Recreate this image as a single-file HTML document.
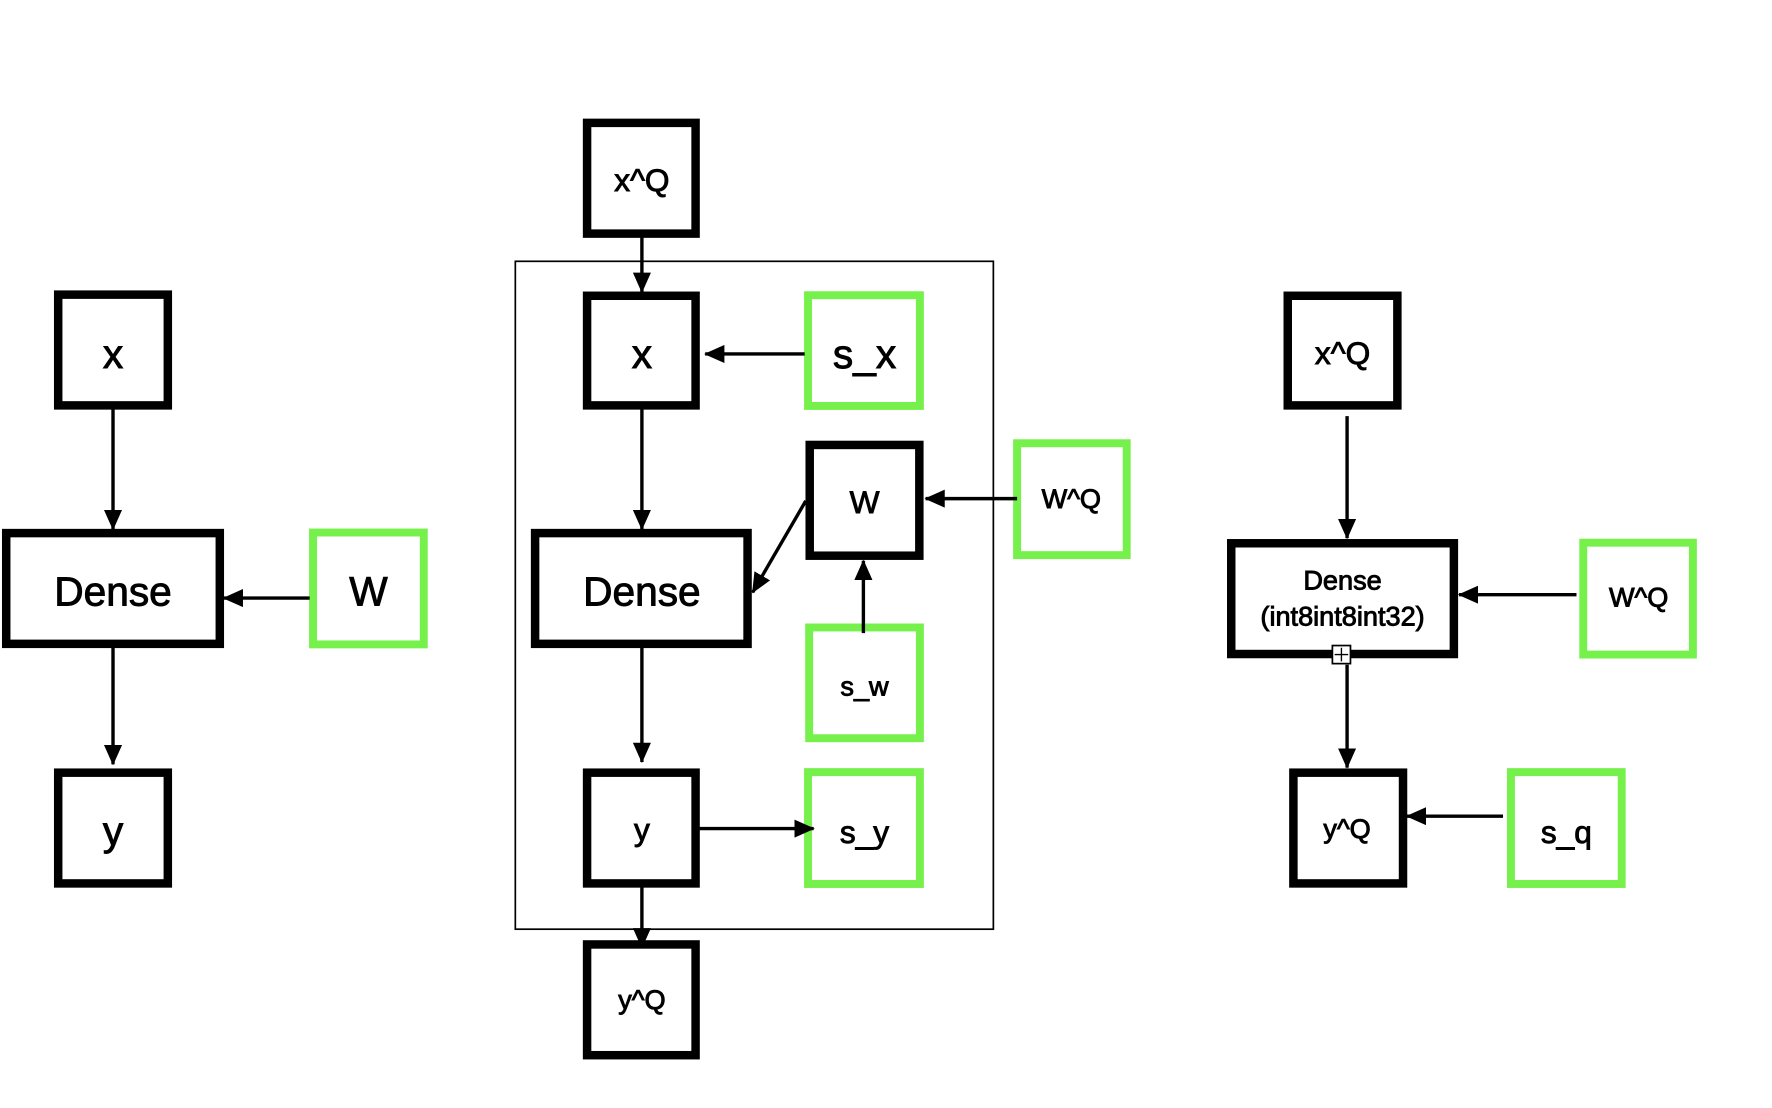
<!DOCTYPE html>
<html><head><meta charset="utf-8"><style>
html,body{margin:0;padding:0;background:#fff;}
svg{display:block;}
text{font-family:"Liberation Sans",sans-serif;text-anchor:middle;dominant-baseline:central;fill:#000;stroke:#000;stroke-width:0.8;}
</style></head><body>
<svg width="1772" height="1108" viewBox="0 0 1568 980" xmlns="http://www.w3.org/2000/svg">
<defs>
<marker id="b" markerWidth="18" markerHeight="16" refX="17" refY="8" orient="auto" markerUnits="userSpaceOnUse" viewBox="0 0 18 16">
<path d="M0,0 L18,8 L0,16 Z" fill="#000"/></marker>
</defs>
<g fill="#fff" stroke="#000" stroke-width="7.5">
<rect x="51.5" y="260.5" width="97" height="98"/>
<rect x="5.5" y="471.5" width="189" height="98"/>
<rect x="51.5" y="683.5" width="97" height="98"/>
<rect x="519.5" y="108.5" width="96" height="98"/>
</g>
<rect x="456" y="231" width="423" height="591" fill="none" stroke="#000" stroke-width="1.5"/>
<g fill="#fff" stroke="#000" stroke-width="7.5">
<rect x="519.5" y="261.5" width="96" height="97"/>
<rect x="473.5" y="471.5" width="188" height="98"/>
<rect x="716.5" y="393.5" width="97" height="98"/>
<rect x="519.5" y="683.5" width="96" height="98"/>
<rect x="519.5" y="835.5" width="96" height="98"/>
<rect x="1139.5" y="261.5" width="97" height="97"/>
<rect x="1089.5" y="480.5" width="197" height="98"/>
<rect x="1144.5" y="683.5" width="97" height="98"/>
</g>
<g fill="#fff" stroke="#76f04a" stroke-width="7">
<rect x="277" y="471" width="98" height="99"/>
<rect x="715" y="261" width="99" height="98"/>
<rect x="900" y="392" width="97" height="99"/>
<rect x="716" y="555" width="98" height="98"/>
<rect x="715" y="683" width="99" height="99"/>
<rect x="1401" y="480" width="97" height="99"/>
<rect x="1337" y="683" width="98" height="99"/>
</g>
<g stroke="#000" stroke-width="3" fill="none" marker-end="url(#b)">
<line x1="100" y1="362" x2="100" y2="468"/>
<line x1="100" y1="573" x2="100" y2="676"/>
<line x1="274" y1="529" x2="198" y2="529"/>
<line x1="568" y1="210" x2="568" y2="258"/>
<line x1="712" y1="313" x2="624" y2="313"/>
<line x1="568" y1="362" x2="568" y2="468"/>
<line x1="900" y1="441" x2="819" y2="441"/>
<line x1="764" y1="560" x2="764" y2="496"/>
<line x1="713" y1="443" x2="666" y2="524"/>
<line x1="568" y1="573" x2="568" y2="674"/>
<line x1="619" y1="733" x2="720" y2="733"/>
<line x1="568" y1="785" x2="568" y2="838"/>
<line x1="1192" y1="368" x2="1192" y2="476"/>
<line x1="1192" y1="588" x2="1192" y2="679"/>
<line x1="1395" y1="526" x2="1291" y2="526"/>
<line x1="1330" y1="722" x2="1245" y2="722"/>
</g>
<rect x="1179" y="571" width="16" height="16" fill="#fff" stroke="#000" stroke-width="1.5"/>
<path d="M1187,573 V585 M1181,579 H1193" stroke="#000" stroke-width="1.2"/>
<g font-size="36">
<text x="100" y="313">x</text>
<text x="100" y="523">Dense</text>
<text x="326" y="523">W</text>
<text x="100" y="735">y</text>
<text x="568" y="313">x</text>
<text x="568" y="523">Dense</text>
<text x="765" y="313">s_x</text>
</g>
<g font-size="28">
<text x="765" y="444">W</text>
<text x="568" y="734">y</text>
<text x="568" y="159">x^Q</text>
<text x="1188" y="312">x^Q</text>
<text x="765" y="736">s_y</text>
<text x="1386" y="736">s_q</text>
</g>
<g font-size="24">
<text x="568" y="884">y^Q</text>
<text x="948" y="441">W^Q</text>
<text x="765" y="607">s_w</text>
<text x="1450" y="528">W^Q</text>
<text x="1192" y="733">y^Q</text>
<text x="1188" y="513">Dense</text>
<text x="1188" y="545">(int8int8int32)</text>
</g>
</svg>
</body></html>
